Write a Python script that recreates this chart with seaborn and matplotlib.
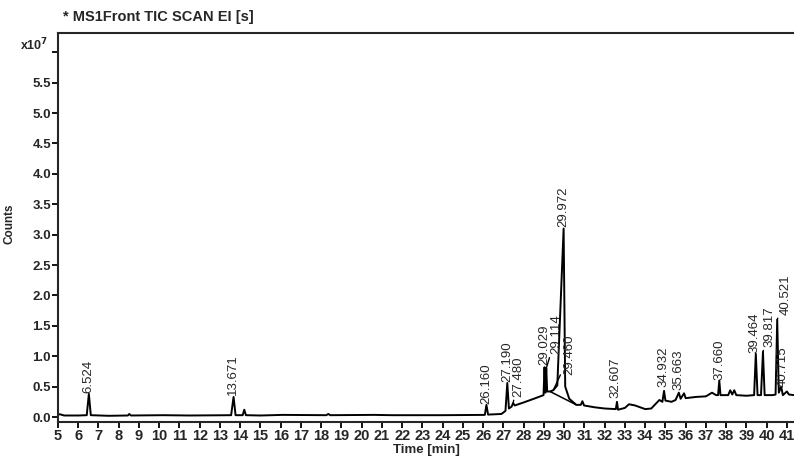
"""Recreate the TIC SCAN EI chromatogram."""
import matplotlib
matplotlib.use("Agg")
import matplotlib.pyplot as plt
import seaborn as sns

# Trace: time in minutes, counts in units of 1e7
trace_time = [
    5.0, 5.1, 5.3, 6.0, 6.42, 6.524, 6.62, 7.5, 8.45, 8.52, 8.6, 10.2, 11.5,
    13.55, 13.671, 13.77, 14.12, 14.2, 14.28, 15.0, 16.1, 18.25, 18.35, 18.45,
    20.6, 21.5, 24.0, 26.08, 26.16, 26.24, 26.9, 27.1, 27.19, 27.27, 27.4,
    27.48, 27.56, 28.0, 28.5, 28.98, 29.029, 29.07, 29.114, 29.16, 29.3, 29.46,
    29.66, 29.972, 30.05, 30.25, 30.6, 30.82, 30.9, 30.98, 31.5, 32.0, 32.55,
    32.607, 32.66, 33.0, 33.2, 33.5, 34.0, 34.3, 34.7, 34.85, 34.932, 35.0,
    35.3, 35.5, 35.663, 35.75, 35.92, 36.0, 36.5, 37.0, 37.3, 37.5, 37.6,
    37.66, 37.72, 38.1, 38.2, 38.3, 38.4, 38.5, 39.0, 39.38, 39.464, 39.55,
    39.72, 39.817, 39.9, 40.3, 40.44, 40.521, 40.6, 40.715, 40.8, 41.0, 41.1,
    41.35,
]
trace_counts = [
    0.04, 0.045, 0.025, 0.025, 0.03, 0.38, 0.03, 0.02, 0.025, 0.05, 0.025, 0.03,
    0.025, 0.03, 0.33, 0.03, 0.03, 0.12, 0.03, 0.025, 0.035, 0.03, 0.05, 0.03,
    0.035, 0.03, 0.03, 0.035, 0.2, 0.04, 0.05, 0.1, 0.56, 0.14, 0.17, 0.23,
    0.19, 0.24, 0.3, 0.36, 0.82, 0.4, 0.8, 0.42, 0.42, 0.44, 0.52, 3.1, 0.5,
    0.3, 0.2, 0.2, 0.26, 0.19, 0.16, 0.14, 0.13, 0.25, 0.12, 0.15, 0.21, 0.19,
    0.13, 0.14, 0.28, 0.25, 0.43, 0.27, 0.25, 0.28, 0.4, 0.3, 0.39, 0.31, 0.33,
    0.34, 0.4, 0.36, 0.36, 0.6, 0.36, 0.36, 0.44, 0.37, 0.44, 0.36, 0.35, 0.36,
    1.04, 0.36, 0.36, 1.07, 0.36, 0.36, 0.37, 1.6, 0.4, 0.5, 0.36, 0.42, 0.37,
    0.36,
]

# Drop baseline drawn under the main peak
base_time = [29.3, 30.6]
base_counts = [0.42, 0.2]

# Peak labels (retention time) and apex heights
peak_labels = ["6.524", "13.671", "26.160", "27.190", "27.480", "29.029",
               "29.114", "29.460", "29.972", "32.607", "34.932", "35.663",
               "37.660", "39.464", "39.817", "40.521", "40.715"]
peak_apex = [0.38, 0.33, 0.2, 0.56, 0.23, 0.82, 0.8, 0.44, 3.1, 0.25, 0.43,
             0.4, 0.6, 1.04, 1.07, 1.6, 0.5]

# Where each label text sits (time, counts); leaders drawn when moved away
label_pos = [(6.524, 0.40), (13.64, 0.36), (26.13, 0.22), (27.19, 0.57),
             (27.72, 0.33), (29.0, 0.85), (29.62, 1.03), (30.27, 0.69),
             (29.95, 3.13), (32.55, 0.31), (34.9, 0.5), (35.64, 0.44),
             (37.66, 0.61), (39.38, 1.06), (40.12, 1.15), (40.96, 1.68),
             (40.8, 0.5)]
leader = {"27.480", "29.114", "29.460", "39.817", "40.521"}

sns.set_style("ticks")
plt.rcParams["font.family"] = ["Liberation Sans Narrow", "Liberation Sans",
                               "DejaVu Sans"]
plt.rcParams["axes.linewidth"] = 1.5

fig = plt.figure(figsize=(7.94, 4.58), dpi=100)
ax = fig.add_axes([58 / 794, 36 / 458, 1 - 58 / 794, 389 / 458])

sns.lineplot(x=trace_time, y=trace_counts, color="black", lw=1.4,
             estimator=None, sort=False, ax=ax)
sns.lineplot(x=base_time, y=base_counts, color="black", lw=1.1,
             estimator=None, sort=False, ax=ax)

for text, apex, t, (lx, ly) in zip(peak_labels, peak_apex,
                                   [float(p) for p in peak_labels], label_pos):
    arrow = None
    if text in leader:
        arrow = dict(arrowstyle="-", lw=1.0, color="black",
                     shrinkA=0, shrinkB=0)
    ax.annotate(text, xy=(t, apex), xytext=(lx, ly), rotation=90,
                ha="center", va="bottom", fontsize=9.5,
                family=["Liberation Sans", "DejaVu Sans"],
                arrowprops=arrow)

ax.set_xlim(5, 41.35)
ax.set_ylim(-0.082, 6.316)
ax.set_xticks(range(5, 42))
ax.set_xticklabels([str(i) for i in range(5, 42)], fontsize=10.5,
                   fontweight="bold")
yt = [i * 0.5 for i in range(13)]
ax.set_yticks(yt)
ax.set_yticklabels([f"{v:.1f}" if v < 6 else "" for v in yt], fontsize=9.5,
                   fontweight="bold")
ax.tick_params(axis="both", length=4, width=1.3, pad=1, color="black")

sns.despine(ax=ax, top=False, right=True)

ax.set_xlabel("Time [min]", fontsize=9.5, fontweight="bold", labelpad=1)
ax.set_ylabel("Counts", fontsize=8.5, fontweight="bold")
ax.yaxis.set_label_coords(-42 / 736, 0.51)

fig.text(63 / 794, 1 - 17 / 458, "* MS1Front TIC SCAN EI [s]", fontsize=10.5,
         fontweight="bold", va="center", ha="left")
fig.text(20 / 794, 1 - 45 / 458, r"x10$^{\mathbf{7}}$", fontsize=9,
         fontweight="bold", va="center", ha="left")

fig.savefig("out.png", dpi=100)
